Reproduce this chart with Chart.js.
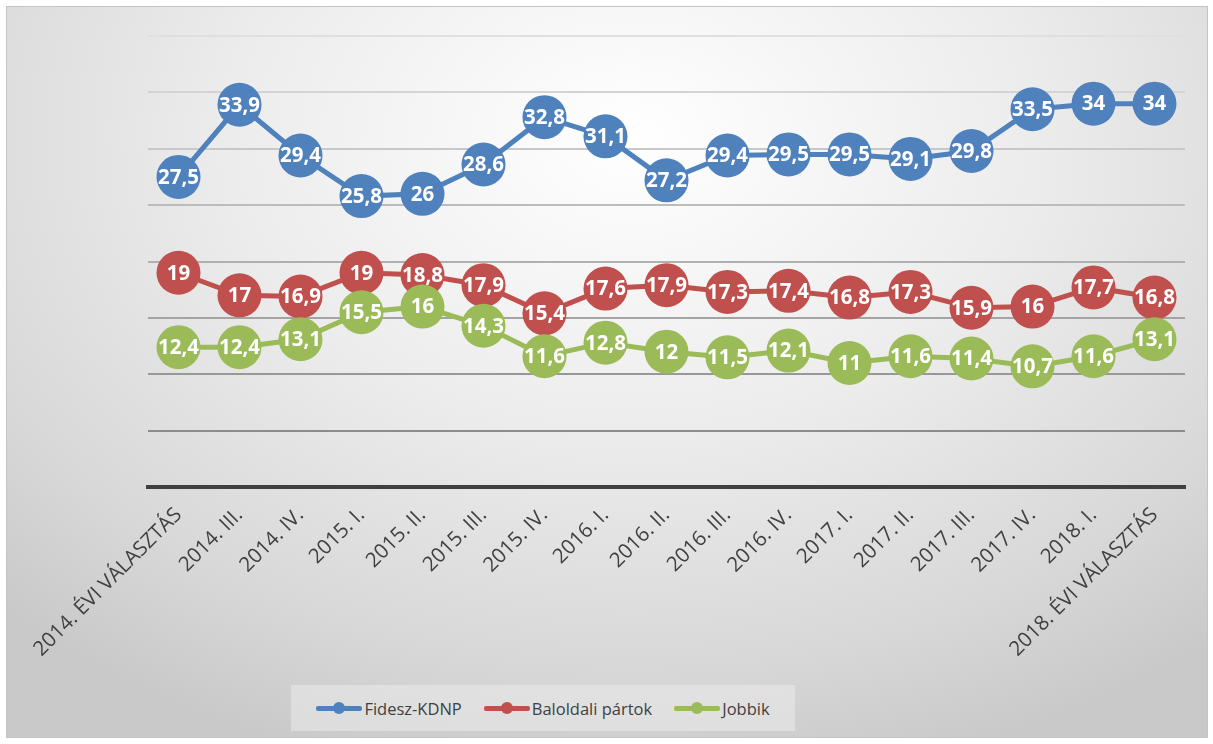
<!DOCTYPE html>
<html>
<head>
<meta charset="utf-8">
<script src="https://cdn.jsdelivr.net/npm/chart.js@4.4.1/dist/chart.umd.min.js"></script>
<style>
  body { margin: 0; background: #fff; width: 1213px; height: 744px; overflow: hidden; font-family: "Open Sans", sans-serif; }
  #frame {
    position: absolute; left: 6px; top: 6px; width: 1202px; height: 732px;
    box-sizing: border-box; border: 1px solid #c4c4c4;
    background: radial-gradient(ellipse 75% 90% at 52% 18%, #ffffff 0%, #ececec 45%, #d8d8d8 80%, #c9c9c9 100%);
  }
  #chartBox { position: absolute; left: 0; top: 0; width: 1200px; height: 670px; }
  #legend {
    position: absolute; left: 284px; top: 678px; width: 504px; height: 46px;
    background: rgba(235,235,235,0.55);
    display: flex; align-items: center; justify-content: center; gap: 22px;
    font-size: 16.5px; color: #404040;
  }
  .item { display: flex; align-items: center; }
  .sym { position: relative; width: 46px; height: 12px; margin-right: 2px; }
  .sym .ln { position: absolute; left: 0; right: 0; top: 4px; height: 5px; border-radius: 2px; }
  .sym .dt { position: absolute; left: 17px; top: 0; width: 12px; height: 12px; border-radius: 50%; }
</style>
</head>
<body>
<div id="frame">
  <div id="chartBox"><canvas id="chart"></canvas></div>
  <div id="legend"></div>
</div>
<script>
const categories = [
  "2014. ÉVI VÁLASZTÁS", "2014. III.", "2014. IV.", "2015. I.", "2015. II.",
  "2015. III.", "2015. IV.", "2016. I.", "2016. II.", "2016. III.", "2016. IV.",
  "2017. I.", "2017. II.", "2017. III.", "2017. IV.", "2018. I.", "2018. ÉVI VÁLASZTÁS"
];
const fidesz = [27.5, 33.9, 29.4, 25.8, 26, 28.6, 32.8, 31.1, 27.2, 29.4, 29.5, 29.5, 29.1, 29.8, 33.5, 34, 34];
const baloldali = [19, 17, 16.9, 19, 18.8, 17.9, 15.4, 17.6, 17.9, 17.3, 17.4, 16.8, 17.3, 15.9, 16, 17.7, 16.8];
const jobbik = [12.4, 12.4, 13.1, 15.5, 16, 14.3, 11.6, 12.8, 12, 11.5, 12.1, 11, 11.6, 11.4, 10.7, 11.6, 13.1];

const seriesNames = ["Fidesz-KDNP", "Baloldali pártok", "Jobbik"];
const seriesColors = ["#4f81bd", "#c0504d", "#9bbb59"];

function makeSet(i, values, order) {
  return {
    label: seriesNames[i],
    data: values,
    borderColor: seriesColors[i],
    backgroundColor: seriesColors[i],
    pointBackgroundColor: seriesColors[i],
    pointBorderWidth: 0,
    pointRadius: 22,
    pointHoverRadius: 22,
    borderWidth: 5,
    tension: 0,
    order: order,
  };
}

// gridlines fade from light at the top to darker near the axis
function gridColor(c) {
  const v = c.tick ? c.tick.value : 0;
  const t = Math.min(Math.max((40 - v) / 35, 0), 1);
  const g = Math.round(0xe0 - t * (0xe0 - 0x8c));
  return "rgb(" + g + "," + g + "," + g + ")";
}

// white labels in the middle of every marker
const valueLabels = {
  id: "valueLabels",
  afterDatasetsDraw(chart) {
    const ctx = chart.ctx;
    ctx.save();
    ctx.fillStyle = "#ffffff";
    ctx.font = "bold 20.5px 'Open Sans'";
    ctx.textAlign = "center";
    ctx.textBaseline = "middle";
    chart.data.datasets.forEach((ds, i) => {
      const meta = chart.getDatasetMeta(i);
      meta.data.forEach((pt, j) => {
        ctx.fillText(String(ds.data[j]).replace(".", ","), pt.x, pt.y + 1);
      });
    });
    ctx.restore();
  },
};

const ctx = document.getElementById("chart").getContext("2d");
new Chart(ctx, {
  type: "line",
  data: {
    labels: categories,
    datasets: [makeSet(0, fidesz, 3), makeSet(1, baloldali, 2), makeSet(2, jobbik, 1)],
  },
  options: {
    responsive: true,
    maintainAspectRatio: false,
    animation: false,
    layout: { padding: { top: 29, right: 19, left: 0, bottom: 0 } },
    plugins: {
      legend: { display: false },
      tooltip: { enabled: false },
    },
    scales: {
      x: {
        offset: true,
        grid: { display: false },
        border: { display: true, color: "#404040", width: 4 },
        ticks: {
          color: "#404040",
          font: { family: "'Open Sans'", size: 20.5 },
          minRotation: 45,
          maxRotation: 45,
          autoSkip: false,
          padding: 8,
        },
        afterFit: (s) => { s.height = 190; },
      },
      y: {
        min: 0,
        max: 40,
        ticks: { display: false, stepSize: 5 },
        grid: { color: gridColor, lineWidth: 2, drawTicks: false },
        border: { display: false },
        afterFit: (s) => { s.width = 141; },
      },
    },
  },
  plugins: [valueLabels],
});

// legend
const legend = document.getElementById("legend");
seriesNames.forEach((name, i) => {
  const item = document.createElement("div");
  item.className = "item";
  item.innerHTML = '<div class="sym"><div class="ln" style="background:' + seriesColors[i] +
    '"></div><div class="dt" style="background:' + seriesColors[i] + '"></div></div><span>' + name + "</span>";
  legend.appendChild(item);
});
</script>
</body>
</html>
